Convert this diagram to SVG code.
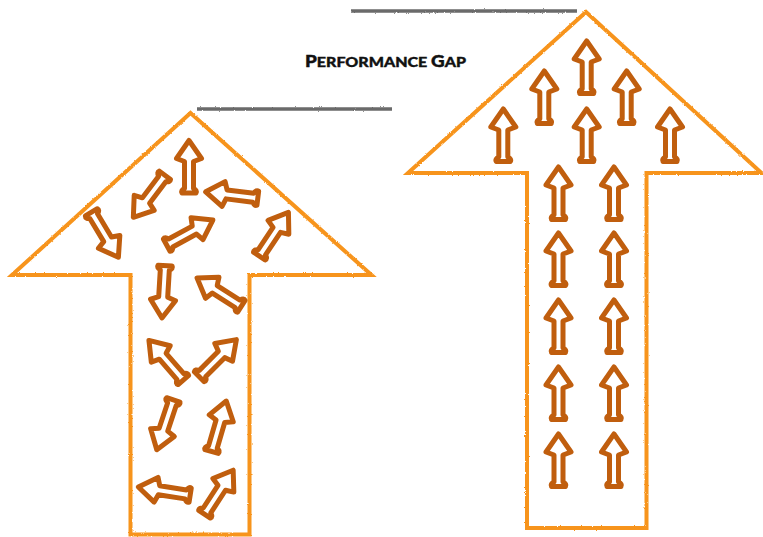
<svg xmlns="http://www.w3.org/2000/svg" xmlns:xlink="http://www.w3.org/1999/xlink" width="763" height="537" viewBox="0 0 763 537">
  <style>
    .big { fill: none; stroke: #f7941d; stroke-width: 4; stroke-linejoin: miter; filter: url(#rough); }
    .gray { fill: none; stroke: #6a6a6a; stroke-width: 3.5; filter: url(#rough); }
    .sa { fill: none; stroke: #c05e0e; stroke-width: 5; stroke-linejoin: round; stroke-linecap: round; }
    .title { font-family: "Lato", "DejaVu Sans", sans-serif; font-weight: 900; fill: #111; }
  </style>
  <defs>
    <filter id="rough" filterUnits="userSpaceOnUse" x="0" y="0" width="763" height="537">
      <feTurbulence type="fractalNoise" baseFrequency="0.9" numOctaves="2" seed="3" result="n"/>
      <feDisplacementMap in="SourceGraphic" in2="n" scale="2.2" xChannelSelector="R" yChannelSelector="G"/>
    </filter>
    <path id="ar" class="sa" d="M0,-26 L12.5,-8 L4.5,-5 L4.5,22 Q8.5,24 7,26.5 L-7,26.5 Q-8.5,24 -4.5,22 L-4.5,-5 L-12.5,-8 Z"/>
  </defs>

  <g id="title">
    <text class="title" x="305" y="66.5" textLength="161" lengthAdjust="spacingAndGlyphs" stroke="#111" stroke-width="0.4"><tspan font-size="16.5">P</tspan><tspan font-size="14">ERFORMANCE </tspan><tspan font-size="16.5">G</tspan><tspan font-size="14">AP</tspan></text>
  </g>

  <g id="lines">
    <line class="gray" x1="351" y1="11" x2="577" y2="11"/>
    <line class="gray" x1="197" y1="109" x2="392" y2="109"/>
  </g>

  <g id="left-arrow">
    <path class="big" d="M190.5,113 L371.5,275 L249.5,275 L249.5,534.5 L130.5,534.5 L130.5,275 L12,275 Z"/>
    <use xlink:href="#ar" transform="translate(189,166.5)"/>
    <use xlink:href="#ar" transform="translate(149,196.5) rotate(-143)"/>
    <use xlink:href="#ar" transform="translate(231.5,195) rotate(-83)"/>
    <use xlink:href="#ar" transform="translate(105,235) rotate(149)"/>
    <use xlink:href="#ar" transform="translate(190,232.5) rotate(61.5)"/>
    <use xlink:href="#ar" transform="translate(274,234) rotate(33.7)"/>
    <use xlink:href="#ar" transform="translate(163.5,292) rotate(183.4)"/>
    <use xlink:href="#ar" transform="translate(219,292) rotate(-57.5)"/>
    <use xlink:href="#ar" transform="translate(166,360) rotate(-41)"/>
    <use xlink:href="#ar" transform="translate(218,358) rotate(45)"/>
    <use xlink:href="#ar" transform="translate(165,425) rotate(198.4)"/>
    <use xlink:href="#ar" transform="translate(219,426) rotate(16.2)"/>
    <use xlink:href="#ar" transform="translate(164,491) rotate(-81)"/>
    <use xlink:href="#ar" transform="translate(219,492) rotate(33)"/>
  </g>

  <g id="right-arrow">
    <path class="big" d="M586,12 L761.5,173 L646.5,173 L646.5,528 L527,528 L527,173 L408,173 Z"/>
    <use xlink:href="#ar" transform="translate(586.7,67)"/>
    <use xlink:href="#ar" transform="translate(544.3,97)"/>
    <use xlink:href="#ar" transform="translate(626.7,97)"/>
    <use xlink:href="#ar" transform="translate(503.3,135)"/>
    <use xlink:href="#ar" transform="translate(586.7,135)"/>
    <use xlink:href="#ar" transform="translate(670,135)"/>
    <use xlink:href="#ar" transform="translate(558.5,193)"/>
    <use xlink:href="#ar" transform="translate(614,193)"/>
    <use xlink:href="#ar" transform="translate(558.5,259)"/>
    <use xlink:href="#ar" transform="translate(614,259)"/>
    <use xlink:href="#ar" transform="translate(558.5,326)"/>
    <use xlink:href="#ar" transform="translate(614,326)"/>
    <use xlink:href="#ar" transform="translate(558.5,393)"/>
    <use xlink:href="#ar" transform="translate(614,393)"/>
    <use xlink:href="#ar" transform="translate(558.5,460)"/>
    <use xlink:href="#ar" transform="translate(614,460)"/>
  </g>
</svg>
